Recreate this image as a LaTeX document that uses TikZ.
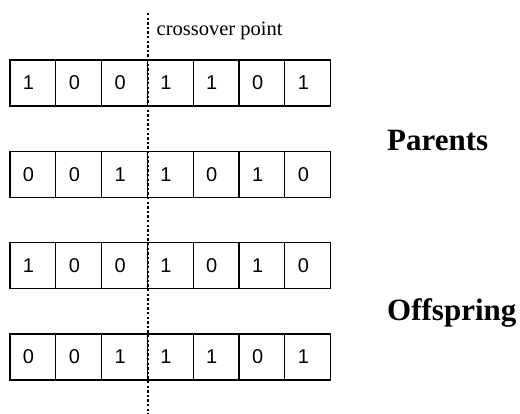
\documentclass[tikz,border=0pt]{standalone}
\usepackage{fontspec}
\setmainfont{Liberation Serif}
\newfontfamily\digitfont{Liberation Sans}
\usetikzlibrary{positioning}

\begin{document}
\begin{tikzpicture}[x=1pt, y=-1pt,
  cell/.style={draw, line width=1.3pt, minimum width=45.8pt, minimum height=46pt,
    inner ysep=0pt, inner xsep=13pt, text width=19.8pt, align=left,
    font=\digitfont\fontsize{20}{20}\selectfont},
  tag/.style={anchor=base west, inner sep=0pt, font=\bfseries\fontsize{31}{31}\selectfont}]
  \useasboundingbox (0,0) rectangle (520,414);
  % Chromosome rows: two parents, then two offspring
  \foreach \bits [count=\r] in {{1,0,0,1,1,0,1},{0,0,1,1,0,1,0},{1,0,0,1,0,1,0},{0,0,1,1,1,0,1}} {
    \foreach \b [count=\c] in \bits {
      \node[cell] (r\r c\c) at ({10+45.8*(\c-0.5)}, {83+91.3*(\r-1)}) {\b};
    }
  }
  % Crossover cut
  \coordinate (cut top) at (147.7,13);
  \coordinate (cut bottom) at (147.7,414);
  \draw[line width=2.2pt, dash pattern=on 2.4pt off 2.2pt] (cut top) -- (cut bottom);
  \node[anchor=base west, inner sep=0pt, font=\fontsize{20.5}{20.5}\selectfont] (cutlabel)
    at (156.5,36) {crossover point};
  % Row group labels
  \node[tag] (parents) at (387,151) {Parents};
  \node[tag] (offspring) at (387,321) {Offspring};
\end{tikzpicture}
\end{document}
